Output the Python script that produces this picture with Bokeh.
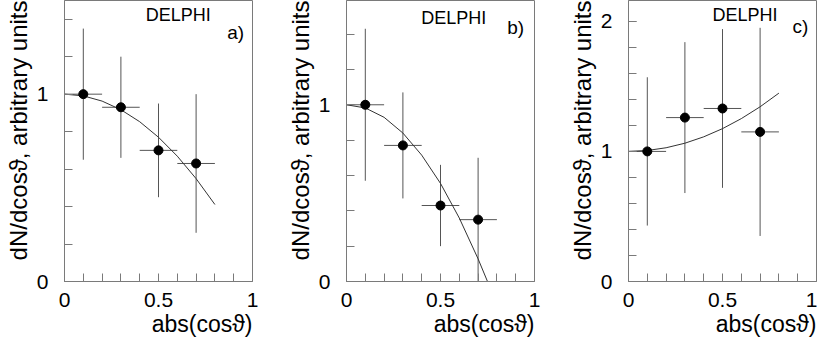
from bokeh.plotting import figure
from bokeh.models import Range1d, FixedTicker, Label, Title
from bokeh.layouts import row
from bokeh.embed import file_html
from bokeh.resources import INLINE

# ---- data ----
x_centers = [0.1, 0.3, 0.5, 0.7]
x_halfwidth = [0.1, 0.1, 0.1, 0.1]

y_a = [1.00, 0.93, 0.70, 0.63]
err_a = [0.35, 0.27, 0.25, 0.37]
y_b = [1.00, 0.77, 0.43, 0.35]
err_b = [0.43, 0.30, 0.23, 0.35]
y_c = [1.00, 1.26, 1.33, 1.15]
err_c = [0.57, 0.58, 0.61, 0.80]

# fitted curves
fit_x_a = [0.0, 0.1, 0.2, 0.3, 0.4, 0.5, 0.6, 0.7, 0.8]
fit_y_a = [1.00, 0.991, 0.963, 0.917, 0.853, 0.770, 0.669, 0.549, 0.411]
fit_x_b = [0.0, 0.1, 0.2, 0.3, 0.4, 0.5, 0.6, 0.7, 0.75]
fit_y_b = [1.00, 0.982, 0.929, 0.840, 0.715, 0.555, 0.359, 0.128, 0.0]
fit_x_c = [0.0, 0.1, 0.2, 0.3, 0.4, 0.5, 0.6, 0.7, 0.8]
fit_y_c = [1.00, 1.007, 1.028, 1.063, 1.112, 1.175, 1.252, 1.343, 1.448]

panel_tags = ["a)", "b)", "c)"]
y_top = [1.5, 1.59, 2.16]
y_major = [[0, 1], [0, 1], [0, 1, 2]]
x_major = [0, 0.5, 1]
x_minor = [0.1, 0.2, 0.3, 0.4, 0.6, 0.7, 0.8, 0.9]
x_title = "abs(cos\u03d1)"
y_title = "dN/dcos\u03d1, arbitrary units"
experiment = "DELPHI"

FONT = "Liberation Sans"
FRAME = "#7a7a7a"
BAR = "#555555"


def make_panel(ys, errs, fx, fy, ymax, ymaj, tag, tag_xy, delphi_xy, width, right_border):
    p = figure(width=width, height=338,
               x_range=Range1d(0, 1), y_range=Range1d(0, ymax),
               output_backend="svg", toolbar_location=None,
               min_border_left=64, min_border_right=right_border,
               min_border_top=0, min_border_bottom=57,
               background_fill_color="white", border_fill_color="white")
    p.grid.visible = False
    p.outline_line_color = FRAME
    p.outline_line_width = 1

    y_minor = [round(0.2 * k, 2) for k in range(1, int(ymax / 0.2) + 1)]
    p.xaxis.ticker = FixedTicker(ticks=x_major, minor_ticks=x_minor)
    p.yaxis.ticker = FixedTicker(ticks=ymaj, minor_ticks=y_minor)
    p.yaxis.major_label_overrides = {0: "0", 1: "1", 2: "2"}
    p.xaxis.major_label_overrides = {0: "0", 0.5: "0.5", 1: "1"}

    for ax in (p.xaxis[0], p.yaxis[0]):
        ax.axis_line_color = FRAME
        ax.major_tick_line_color = FRAME
        ax.minor_tick_line_color = FRAME
        ax.major_tick_in = 8
        ax.major_tick_out = 0
        ax.minor_tick_in = 8
        ax.minor_tick_out = 0
        ax.major_label_text_font = FONT
        ax.major_label_text_font_size = "21px"
        ax.major_label_text_color = "black"

    p.xaxis.major_label_standoff = 11
    p.yaxis.major_label_standoff = 16

    # axis titles, right-aligned to the frame edge
    p.add_layout(Title(text=y_title, align="right", text_font=FONT,
                       text_font_size="24px", text_font_style="normal",
                       text_color="black", standoff=3), "left")
    p.add_layout(Title(text=x_title, align="right", text_font=FONT,
                       text_font_size="23px", text_font_style="normal",
                       text_color="black", standoff=-2), "below")

    # error bars
    x0 = [x - h for x, h in zip(x_centers, x_halfwidth)]
    x1 = [x + h for x, h in zip(x_centers, x_halfwidth)]
    lo = [y - e for y, e in zip(ys, errs)]
    hi = [y + e for y, e in zip(ys, errs)]
    p.segment(x0=x0, y0=ys, x1=x1, y1=ys, line_color=BAR, line_width=1)
    p.segment(x0=x_centers, y0=lo, x1=x_centers, y1=hi, line_color=BAR, line_width=1)

    # fit curve
    p.line(fx, fy, line_color="#333333", line_width=1)

    # data points
    p.scatter(x_centers, ys, size=9, marker="circle",
              fill_color="black", line_color="black")

    p.add_layout(Label(x=delphi_xy[0], y=delphi_xy[1], text=experiment,
                       text_font=FONT, text_font_size="18px",
                       text_align="center", text_baseline="middle",
                       text_color="black"))
    p.add_layout(Label(x=tag_xy[0], y=tag_xy[1], text=tag,
                       text_font=FONT, text_font_size="19px",
                       text_align="center", text_baseline="middle",
                       text_color="black"))
    return p


pa = make_panel(y_a, err_a, fit_x_a, fit_y_a, y_top[0], y_major[0], panel_tags[0],
                (0.91, 1.33), (0.605, 1.42), 282, 30)
pb = make_panel(y_b, err_b, fit_x_b, fit_y_b, y_top[1], y_major[1], panel_tags[1],
                (0.90, 1.44), (0.57, 1.49), 282, 30)
pc = make_panel(y_c, err_c, fit_x_c, fit_y_c, y_top[2], y_major[2], panel_tags[2],
                (0.915, 1.96), (0.62, 2.045), 253, 1)

layout = row(pa, pb, pc, spacing=0)
open("out.html", "w").write(file_html(layout, INLINE))
